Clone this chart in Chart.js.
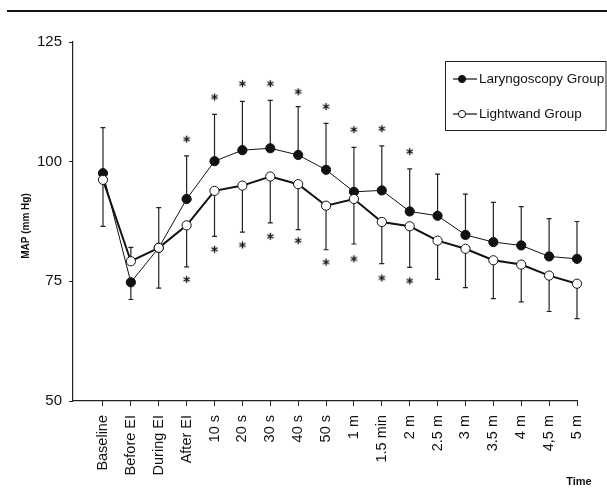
<!DOCTYPE html>
<html>
<head>
<meta charset="utf-8">
<title>MAP chart</title>
<script src="https://cdn.jsdelivr.net/npm/chart.js"></script>
<style>
  html, body { margin: 0; padding: 0; background: #fff; }
  #wrap { position: relative; width: 607px; height: 488px; }
  #rule { position: absolute; left: 7px; right: 0; top: 10px; border-top: 2px solid #111; }
  canvas { display: block; }
</style>
</head>
<body>
<div id="wrap">
  <div id="rule"></div>
  <canvas id="chart" width="607" height="488"></canvas>
</div>
<script>
  var categories = ["Baseline", "Before EI", "During EI", "After EI", "10 s", "20 s", "30 s", "40 s", "50 s",
    "1 m", "1.5 min", "2 m", "2.5 m", "3 m", "3.5 m", "4 m", "4,5 m", "5 m"];

  var laryMean = [97.6, 74.8, 82.0, 92.2, 100.1, 102.4, 102.8, 101.4, 98.3, 93.7, 94.0, 89.6, 88.7, 84.7, 83.2, 82.5, 80.2, 79.7];
  var lightMean = [96.2, 79.2, 82.0, 86.7, 93.9, 95.0, 96.9, 95.3, 90.8, 92.2, 87.4, 86.5, 83.5, 81.8, 79.4, 78.5, 76.2, 74.5];

  // end of the SD bar (bar runs from the mean to this value)
  var laryBarEnd = [107.1, 71.2, 90.4, 101.2, 109.9, 112.6, 112.8, 111.5, 108.0, 103.0, 103.3, 98.5, 97.4, 93.2, 91.5, 90.6, 88.1, 87.5];
  var lightBarEnd = [86.5, 82.1, 73.6, 78.0, 84.4, 85.3, 87.2, 85.8, 81.6, 82.8, 78.7, 77.9, 75.4, 73.7, 71.4, 70.7, 68.7, 67.2];

  // significance marks (*)
  var laryStar = [null, null, null, 104.7, 113.5, 116.3, 116.3, 114.6, 111.5, 106.7, 106.9, 102.1, null, null, null, null, null, null];
  var lightStar = [null, null, null, 75.4, 81.7, 82.6, 84.4, 83.5, 79.0, 79.7, 75.7, 75.1, null, null, null, null, null, null];

  var yTicks = [50, 75, 100, 125];

  function toPoints(arr) {
    var pts = [];
    for (var i = 0; i < arr.length; i++) {
      if (arr[i] !== null) pts.push({ x: i, y: arr[i] });
    }
    return pts;
  }

  function makeStar() {
    var c = document.createElement("canvas");
    c.width = 9; c.height = 9;
    var g = c.getContext("2d");
    g.strokeStyle = "#111";
    g.lineWidth = 1.3;
    var r = 3.6;
    for (var k = 0; k < 3; k++) {
      var a = Math.PI / 2 + k * Math.PI / 3;
      g.beginPath();
      g.moveTo(4.5 + r * Math.cos(a), 4.5 + r * Math.sin(a));
      g.lineTo(4.5 - r * Math.cos(a), 4.5 - r * Math.sin(a));
      g.stroke();
    }
    return c;
  }
  var starImg = makeStar();

  var errorBars = {
    id: "errorBars",
    beforeDatasetsDraw: function (chart) {
      var ctx = chart.ctx;
      var xs = chart.scales.x, ys = chart.scales.y;
      var sets = [[laryMean, laryBarEnd], [lightMean, lightBarEnd]];
      ctx.save();
      ctx.strokeStyle = "#222";
      ctx.lineWidth = 1.2;
      sets.forEach(function (s) {
        for (var i = 0; i < s[0].length; i++) {
          var x = xs.getPixelForValue(i);
          var y1 = ys.getPixelForValue(s[0][i]);
          var y2 = ys.getPixelForValue(s[1][i]);
          ctx.beginPath();
          ctx.moveTo(x, y1);
          ctx.lineTo(x, y2);
          ctx.moveTo(x - 2.5, y2);
          ctx.lineTo(x + 2.5, y2);
          ctx.stroke();
        }
      });
      ctx.restore();
    }
  };

  var boxLegend = {
    id: "boxLegend",
    afterDraw: function (chart) {
      var ctx = chart.ctx;
      ctx.save();
      ctx.strokeStyle = "#222";
      ctx.lineWidth = 1;
      ctx.strokeRect(445.5, 61.5, 160.5, 69);
      var rows = [
        { y: 79, text: "Laryngoscopy Group", fill: "#111", lw: 1.2 },
        { y: 114, text: "Lightwand Group", fill: "#fff", lw: 1.2 }
      ];
      rows.forEach(function (r) {
        ctx.beginPath();
        ctx.strokeStyle = "#111";
        ctx.lineWidth = r.lw;
        ctx.moveTo(453, r.y);
        ctx.lineTo(477, r.y);
        ctx.stroke();
        ctx.beginPath();
        ctx.arc(462, r.y, 3.6, 0, Math.PI * 2);
        ctx.fillStyle = r.fill;
        ctx.fill();
        ctx.lineWidth = 1;
        ctx.stroke();
        ctx.fillStyle = "#111";
        ctx.font = "13.5px 'Liberation Sans', Arial, sans-serif";
        ctx.textBaseline = "middle";
        ctx.textAlign = "left";
        ctx.fillText(r.text, 479, r.y);
      });

      // axis titles
      ctx.font = "bold 10px 'Liberation Sans', Arial, sans-serif";
      ctx.textAlign = "center";
      ctx.textBaseline = "middle";
      ctx.save();
      ctx.translate(26, 226);
      ctx.rotate(-Math.PI / 2);
      ctx.fillText("MAP (mm Hg)", 0, 0);
      ctx.restore();
      ctx.font = "bold 11px 'Liberation Sans', Arial, sans-serif";
      ctx.fillText("Time", 579, 482);
      ctx.restore();
    }
  };

  var ctx = document.getElementById("chart").getContext("2d");
  var chart = new Chart(ctx, {
    type: "line",
    data: {
      datasets: [
        {
          label: "Lightwand Group",
          data: toPoints(lightMean),
          borderColor: "#111",
          borderWidth: 2,
          pointRadius: 4.6,
          pointBackgroundColor: "#fff",
          pointBorderColor: "#111",
          pointBorderWidth: 1,
          fill: false,
          clip: false,
          tension: 0
        },
        {
          label: "Laryngoscopy Group",
          data: toPoints(laryMean),
          borderColor: "#111",
          borderWidth: 1,
          pointRadius: 4.6,
          pointBackgroundColor: "#111",
          pointBorderColor: "#111",
          pointBorderWidth: 1,
          fill: false,
          clip: false,
          tension: 0
        },
        {
          label: "lary sig",
          data: toPoints(laryStar),
          showLine: false,
          pointStyle: starImg,
          pointRadius: 4,
          clip: false
        },
        {
          label: "light sig",
          data: toPoints(lightStar),
          showLine: false,
          pointStyle: starImg,
          pointRadius: 4,
          clip: false
        }
      ]
    },
    options: {
      responsive: false,
      animation: false,
      layout: { padding: { top: 42, right: 30, left: 0, bottom: 0 } },
      plugins: {
        legend: { display: false },
        tooltip: { enabled: false }
      },
      scales: {
        x: {
          type: "linear",
          min: -1.075,
          max: 17,
          afterBuildTicks: function (scale) {
            scale.ticks = categories.map(function (c, i) { return { value: i }; });
          },
          afterFit: function (scale) { scale.height = 87; },
          ticks: {
            autoSkip: false,
            minRotation: 90,
            maxRotation: 90,
            padding: 9,
            color: "#111",
            font: { family: "'Liberation Sans', Arial, sans-serif", size: 14.5 },
            callback: function (v) { return categories[v]; }
          },
          grid: { drawOnChartArea: false, tickLength: 5, color: "#222" },
          border: { color: "#222", width: 1.2 }
        },
        y: {
          min: 50,
          max: 125,
          afterBuildTicks: function (scale) {
            scale.ticks = yTicks.map(function (v) { return { value: v }; });
          },
          afterFit: function (scale) { scale.width = 73; },
          ticks: {
            padding: 7,
            color: "#111",
            font: { family: "'Liberation Sans', Arial, sans-serif", size: 15 }
          },
          grid: { drawOnChartArea: false, tickLength: 4, color: "#222" },
          border: { color: "#222", width: 1.2 }
        }
      }
    },
    plugins: [errorBars, boxLegend]
  });
</script>
</body>
</html>
